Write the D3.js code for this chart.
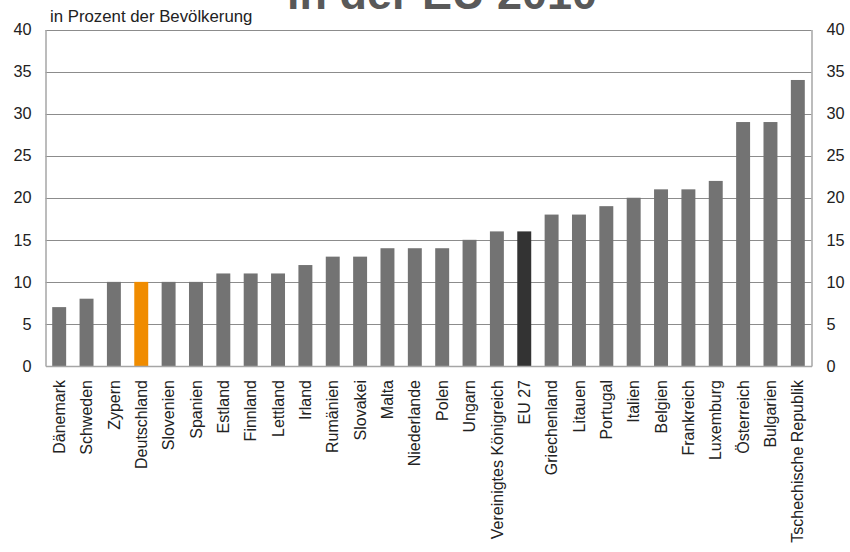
<!DOCTYPE html>
<html><head><meta charset="utf-8">
<script src="https://cdn.jsdelivr.net/npm/d3@7"></script>
<style>body{margin:0;background:#fff;} svg{display:block;font-family:"Liberation Sans",Arial,sans-serif;}</style>
</head><body>
<svg id="c" width="850" height="552"></svg>
<script>
const categories = ["Dänemark","Schweden","Zypern","Deutschland","Slovenien","Spanien","Estland","Finnland","Lettland","Irland","Rumänien","Slovakei","Malta","Niederlande","Polen","Ungarn","Vereinigtes Königreich","EU 27","Griechenland","Litauen","Portugal","Italien","Belgien","Frankreich","Luxemburg","Österreich","Bulgarien","Tschechische Republik"];
const values = [7,8,10,10,10,10,11,11,11,12,13,13,14,14,14,15,16,16,18,18,19,20,21,21,22,29,29,34];
const yTicks = [0,5,10,15,20,25,30,35,40];
const titleText = "in der EU 2010";
const subtitleText = "in Prozent der Bevölkerung";

(function(){
const svg = d3.select("#c");
const pL = 45.5, pR = 811.5, pT = 29.5, pB = 366;
const x = d3.scaleBand().domain(categories).range([pL, pR]).paddingInner(0.49).paddingOuter(0.245);
const y = d3.scaleLinear().domain([0, 40]).range([pB, pT]);

// gridlines
svg.append("g").selectAll("line").data(yTicks.filter(d => d > 0)).join("line")
  .attr("x1", pL).attr("x2", pR)
  .attr("y1", d => Math.round(y(d)) + 0.5).attr("y2", d => Math.round(y(d)) + 0.5)
  .attr("stroke", "#8c8c8c").attr("stroke-width", 1);

// bars
svg.append("g").selectAll("rect").data(categories).join("rect")
  .attr("x", d => x(d)).attr("width", x.bandwidth())
  .attr("y", (d, i) => y(values[i])).attr("height", (d, i) => pB - y(values[i]))
  .attr("fill", d => d === "Deutschland" ? "#F08C00" : (d === "EU 27" ? "#333333" : "#737373"));

// axes
const yl = d3.axisLeft(y).tickValues(yTicks).tickSize(0).tickPadding(14);
const yr = d3.axisRight(y).tickValues(yTicks).tickSize(0).tickPadding(15);
const gl = svg.append("g").attr("transform", `translate(${pL},0)`).call(yl);
const gr = svg.append("g").attr("transform", `translate(${pR},0)`).call(yr);
[gl, gr].forEach(g => {
  g.select(".domain").attr("stroke", "#a6a6a6").attr("stroke-width", 1.5);
  g.selectAll("text").attr("font-size", 16.3).attr("fill", "#222").attr("font-family", "Liberation Sans, Arial, sans-serif");
});

const xa = d3.axisBottom(x).tickSize(0).tickPadding(0);
const gx = svg.append("g").attr("transform", `translate(0,${pB})`).call(xa);
gx.select(".domain").attr("stroke", "#a6a6a6").attr("stroke-width", 1.5);
gx.selectAll("text")
  .attr("font-size", 16).attr("fill", "#222").attr("font-family", "Liberation Sans, Arial, sans-serif")
  .attr("text-anchor", "end").attr("transform", "rotate(-90)")
  .attr("x", -14).attr("y", 0).attr("dy", "0.35em");

// title (partially cut off at the top, as in the reference)
svg.append("text").attr("x", 442).attr("y", 9).attr("text-anchor", "middle")
  .attr("font-size", 45).attr("font-weight", "bold").attr("fill", "#595959").text(titleText);
svg.append("text").attr("x", 50).attr("y", 22).attr("font-size", 16.8).attr("fill", "#222").text(subtitleText);
})();
</script>
</body></html>
